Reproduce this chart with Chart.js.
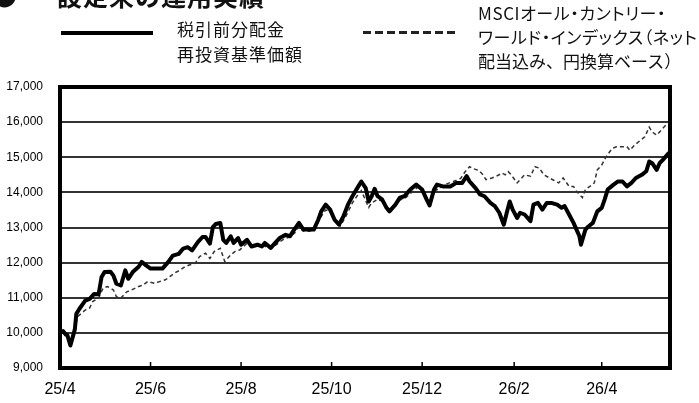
<!DOCTYPE html>
<html><head><meta charset="utf-8">
<script src="https://cdn.jsdelivr.net/npm/chart.js@4.4.1/dist/chart.umd.min.js"></script>
<style>
html,body{margin:0;padding:0;background:#fff;}
#wrap{position:relative;width:699px;height:403px;overflow:hidden;font-family:"Noto Sans CJK JP","Noto Sans",sans-serif;color:#111;}
#c{position:absolute;left:0;top:0;}
.t{position:absolute;white-space:nowrap;}
#bullet{left:-8px;top:-17px;font-size:25px;line-height:25px;font-weight:bold;}
#title{left:57px;top:-17px;font-size:25px;line-height:25px;font-weight:bold;letter-spacing:1px;}
#leg1{left:177px;top:17px;font-size:17px;line-height:24.5px;letter-spacing:1px;}
.m{left:478px;font-size:17px;line-height:24px;}
.p{font-feature-settings:"palt";}
#m1{top:1px;letter-spacing:0.6px;}
#m2{top:25px;letter-spacing:0.6px;}
#m3{top:49px;}
#l1line{position:absolute;left:61px;top:31px;width:92px;height:4px;background:#000;}
#l2line{position:absolute;left:363px;top:31px;width:92px;height:3px;background:repeating-linear-gradient(to right,#222 0 8px,transparent 8px 12px);}
</style></head><body>
<div id="wrap">
<canvas id="c" width="699" height="403"></canvas>
<div class="t" id="bullet">●</div>
<div class="t" id="title">設定来の運用実績</div>
<div id="l1line"></div>
<div class="t" id="leg1">税引前分配金<br>再投資基準価額</div>
<div id="l2line"></div>
<div class="t m p" id="m1">MSCIオール・カントリー・</div>
<div class="t m p" id="m2">ワールド・インデックス（ネット</div>
<div class="t m" id="m3">配当込み、円換算ベース）</div>
</div>
<script>
// ---- data (days since 2025-04-01) ----
const startDate = '2025-04-01';
const tickDates = ['2025-04-01','2025-06-01','2025-08-01','2025-10-01','2025-12-01','2026-02-01','2026-04-01'];
const tickLabels = ['25/4','25/6','25/8','25/10','25/12','26/2','26/4'];
const yTicks = [9000,10000,11000,12000,13000,14000,15000,16000,17000];
const seriesNames = ['税引前分配金再投資基準価額','MSCIオール・カントリー・ワールド・インデックス（ネット配当込み、円換算ベース）'];

const fundDays = [0,2,4,5,7,10,11,13,17,20,23,26,28,30,34,36,38,41,44,46,49,53,55,58,61,66,69,73,76,80,83,86,89,93,96,98,101,103,105,108,110,112,115,117,120,122,126,129,133,136,138,142,145,148,152,155,157,161,164,167,171,174,176,179,182,185,188,191,194,197,201,203,206,208,210,212,214,217,220,222,226,229,232,236,240,244,247,249,252,254,258,263,267,271,274,276,280,283,286,290,293,296,299,301,303,305,308,310,313,317,319,322,325,328,331,335,338,340,343,346,348,350,351,354,356,359,362,365,367,369,373,376,379,382,385,388,392,395,397,399,402,404,406,410];
const fundValues = [10000,10050,9950,9930,9640,10100,10540,10680,10920,10970,11110,11100,11590,11730,11740,11630,11400,11350,11780,11540,11730,11880,12020,11920,11830,11830,11830,12020,12200,12250,12400,12440,12350,12590,12730,12730,12540,13010,13100,13130,12650,12560,12750,12560,12700,12510,12650,12460,12510,12460,12560,12420,12560,12700,12790,12750,12890,13130,12940,12940,12940,13220,13460,13650,13510,13220,13080,13320,13650,13890,14170,14310,14120,13740,13890,14100,13890,13800,13560,13460,13650,13850,13890,14080,14220,14080,13800,13630,14080,14220,14170,14170,14270,14270,14460,14310,14120,13940,13890,13700,13610,13420,13080,13420,13740,13510,13270,13420,13370,13180,13650,13700,13510,13700,13700,13650,13560,13610,13370,13130,12940,12750,12510,12940,13030,13130,13460,13560,13800,14080,14220,14310,14310,14170,14270,14410,14500,14600,14880,14830,14640,14830,14920,15110];

const indexDays = [0,3,7,10,12,17,20,22,26,29,32,36,38,41,45,48,53,56,59,64,67,71,74,77,81,84,87,91,94,98,101,104,108,111,115,118,121,126,129,133,137,142,146,150,154,158,161,164,168,172,175,179,182,186,189,193,197,201,203,208,210,214,217,221,225,229,233,237,241,245,249,253,257,261,265,270,273,276,278,281,283,285,287,291,294,298,300,302,304,308,310,313,317,320,323,326,329,332,336,339,343,346,348,352,354,357,360,362,365,368,372,375,378,382,384,387,391,394,397,399,402,405,410];
const indexValues = [10000,10020,9750,10150,10470,10650,10710,10890,10990,11270,11320,11220,11030,10990,11170,11220,11320,11360,11460,11410,11460,11510,11600,11700,11790,11880,11930,11980,12170,12270,12120,12320,12410,12030,12220,12320,12360,12550,12440,12470,12480,12400,12520,12650,12720,12840,13030,12900,12890,12950,13250,13500,13450,13150,13050,13350,13700,13950,14050,13570,13700,13800,13750,13500,13600,13780,13850,14000,14150,14000,13700,14050,14150,14250,14310,14400,14590,14730,14680,14640,14590,14500,14360,14410,14460,14550,14500,14590,14500,14270,14360,14500,14460,14730,14690,14500,14430,14360,14270,14410,14170,14170,14030,13850,14080,14170,14270,14640,14780,15020,15250,15300,15300,15300,15200,15340,15480,15580,15860,15720,15630,15770,16000];

const dayOf = s => (Date.parse(s) - Date.parse(startDate)) / 86400000;
const tickDays = tickDates.map(dayOf);
const xMax = 411;

const toPts = (xs, ys) => xs.map((x, i) => ({x, y: ys[i]}));

const framePlugin = {
  id: 'frame',
  afterDatasetsDraw(chart) {
    const {ctx, chartArea: a, scales} = chart;
    ctx.save();
    ctx.strokeStyle = '#000';
    ctx.lineWidth = 1.5;
    scales.x.ticks.forEach(t => {
      const px = scales.x.getPixelForValue(t.value);
      ctx.beginPath();
      ctx.moveTo(px, a.bottom - 6);
      ctx.lineTo(px, a.bottom);
      ctx.stroke();
    });
    ctx.lineWidth = 4;
    ctx.lineJoin = 'miter';
    ctx.strokeRect(a.left, a.top, a.right - a.left, a.bottom - a.top);
    ctx.restore();
  }
};

new Chart(document.getElementById('c'), {
  type: 'line',
  data: {
    datasets: [
      {label: seriesNames[0], data: toPts(fundDays, fundValues), borderColor: '#000', borderWidth: 4, pointRadius: 0, tension: 0, borderJoinStyle: 'round', borderCapStyle: 'round'},
      {label: seriesNames[1], data: toPts(indexDays, indexValues), borderColor: '#333', borderWidth: 1.5, borderDash: [4, 3], pointRadius: 0, tension: 0}
    ]
  },
  options: {
    responsive: false,
    animation: false,
    events: [],
    layout: {padding: {left: 0, right: 29, top: 87, bottom: 0}},
    plugins: {legend: {display: false}, tooltip: {enabled: false}},
    scales: {
      x: {
        type: 'linear', min: 0, max: xMax,
        afterBuildTicks: s => { s.ticks = tickDays.map(v => ({value: v})); },
        afterFit: s => { s.height = 35; },
        grid: {display: false, drawTicks: false},
        border: {display: false},
        ticks: {
          autoSkip: false, maxRotation: 0, padding: 12, color: '#000',
          font: {family: 'Liberation Sans', size: 16},
          callback: v => tickLabels[tickDays.indexOf(v)]
        }
      },
      y: {
        min: 9000, max: 17000,
        afterBuildTicks: s => { s.ticks = yTicks.map(v => ({value: v})); },
        afterFit: s => { s.width = 60; },
        grid: {color: '#333', lineWidth: 2, drawTicks: false},
        border: {display: false},
        ticks: {
          padding: 17, color: '#000',
          font: {family: 'Liberation Sans', size: 12},
          callback: v => v.toLocaleString('en-US')
        }
      }
    }
  },
  plugins: [framePlugin]
});
</script>
</body></html>
